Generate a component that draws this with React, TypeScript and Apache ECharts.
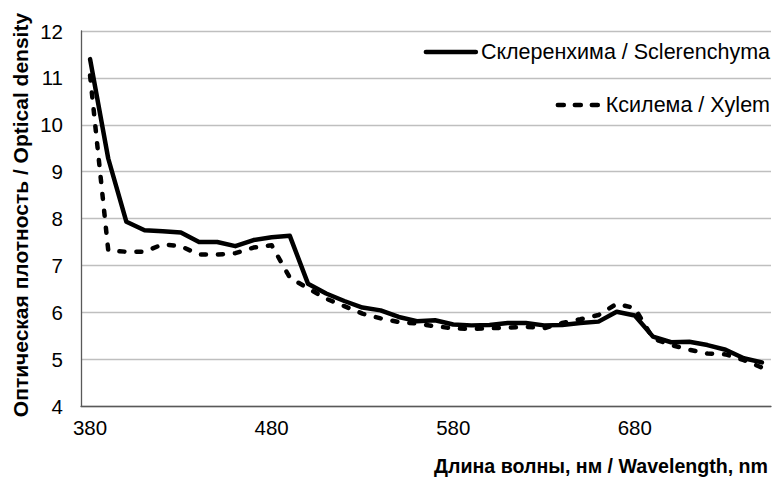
import React, { useEffect, useRef } from "react";
import * as echarts from "echarts";

// Wavelength categories, nm
const wavelengths = [
  "380", "390", "400", "410", "420", "430", "440", "450", "460", "470",
  "480", "490", "500", "510", "520", "530", "540", "550", "560", "570",
  "580", "590", "600", "610", "620", "630", "640", "650", "660", "670",
  "680", "690", "700", "710", "720", "730", "740", "750",
];

// Optical density of sclerenchyma
const sclerenchyma = [
  11.4, 9.28, 7.93, 7.75, 7.73, 7.7, 7.5, 7.5, 7.41, 7.54,
  7.6, 7.63, 6.61, 6.4, 6.24, 6.1, 6.04, 5.9, 5.81, 5.83,
  5.74, 5.72, 5.73, 5.77, 5.77, 5.72, 5.73, 5.77, 5.8, 6.01,
  5.93, 5.48, 5.36, 5.37, 5.3, 5.2, 5.02, 4.93,
];

// Optical density of xylem
const xylem = [
  11.05, 7.32, 7.29, 7.29, 7.45, 7.41, 7.23, 7.23, 7.26, 7.38,
  7.43, 6.74, 6.51, 6.29, 6.13, 5.97, 5.87, 5.79, 5.76, 5.7,
  5.66, 5.64, 5.66, 5.67, 5.69, 5.66, 5.77, 5.85, 5.94, 6.18,
  6.09, 5.44, 5.3, 5.2, 5.12, 5.1, 4.98, 4.82,
];

const seriesNames = ["Склеренхима / Sclerenchyma", "Ксилема / Xylem"];
const xTitle = "Длина волны, нм / Wavelength, nm";
const yTitle = "Оптическая плотность / Optical density";

const FONT = "'Liberation Sans', Arial, sans-serif";
const LINE_W = 4.5;
const DASH = [5, 12];

export default function App() {
  const ref = useRef<HTMLDivElement>(null);

  useEffect(() => {
    if (!ref.current) return;
    const chart = echarts.init(ref.current, undefined, { renderer: "svg" });
    const legendText = { fontFamily: FONT, fontSize: 21.5, color: "#000" };
    chart.setOption({
      animation: false,
      backgroundColor: "#fff",
      grid: { left: 81, right: 4, top: 31, bottom: 75 },
      legend: [
        {
          data: [seriesNames[0]],
          right: 5,
          top: 41,
          padding: 0,
          itemWidth: 50,
          itemHeight: 14,
          itemGap: 8,
          itemStyle: { opacity: 0 },
          lineStyle: { width: LINE_W, color: "#000", cap: "round" },
          textStyle: legendText,
        },
        {
          data: [seriesNames[1]],
          right: 5,
          top: 94,
          padding: 0,
          itemWidth: 43,
          itemHeight: 14,
          itemGap: 12,
          itemStyle: { opacity: 0 },
          lineStyle: { width: LINE_W, color: "#000", type: [6, 11], cap: "round" },
          textStyle: legendText,
        },
      ],
      xAxis: {
        type: "category",
        data: wavelengths,
        boundaryGap: true,
        axisLine: { show: true, lineStyle: { color: "#595959", width: 1.3 } },
        axisTick: { show: false },
        axisLabel: {
          interval: 9,
          margin: 11,
          fontFamily: FONT,
          fontSize: 20.5,
          color: "#000",
        },
        splitLine: { show: false },
      },
      yAxis: {
        type: "value",
        min: 4,
        max: 12,
        interval: 1,
        axisLine: { show: true, lineStyle: { color: "#595959", width: 1.3 } },
        axisTick: { show: false },
        axisLabel: {
          margin: 18,
          fontFamily: FONT,
          fontSize: 20.5,
          color: "#000",
        },
        splitLine: { show: true, lineStyle: { color: "#bfbfbf", width: 1.3 } },
      },
      graphic: [
        {
          type: "text",
          right: 7,
          top: 456,
          style: {
            text: xTitle,
            fontFamily: FONT,
            fontSize: 19.6,
            fontWeight: "bold",
            fill: "#000",
          },
        },
        {
          type: "text",
          x: 20,
          y: 215,
          rotation: Math.PI / 2,
          style: {
            text: yTitle,
            fontFamily: FONT,
            fontSize: 21,
            fontWeight: "bold",
            fill: "#000",
            align: "center",
            verticalAlign: "middle",
          },
        },
      ],
      series: [
        {
          name: seriesNames[0],
          type: "line",
          data: sclerenchyma,
          symbol: "none",
          lineStyle: { color: "#000", width: LINE_W, cap: "round", join: "round" },
          itemStyle: { color: "#000" },
          z: 3,
        },
        {
          name: seriesNames[1],
          type: "line",
          data: xylem,
          symbol: "none",
          lineStyle: {
            color: "#000",
            width: LINE_W,
            type: DASH,
            cap: "round",
            join: "round",
          },
          itemStyle: { color: "#000" },
          z: 2,
        },
      ],
    });
    return () => chart.dispose();
  }, []);

  return (
    <div
      ref={ref}
      style={{ position: "absolute", left: 0, top: 0, width: 775, height: 481 }}
    />
  );
}
